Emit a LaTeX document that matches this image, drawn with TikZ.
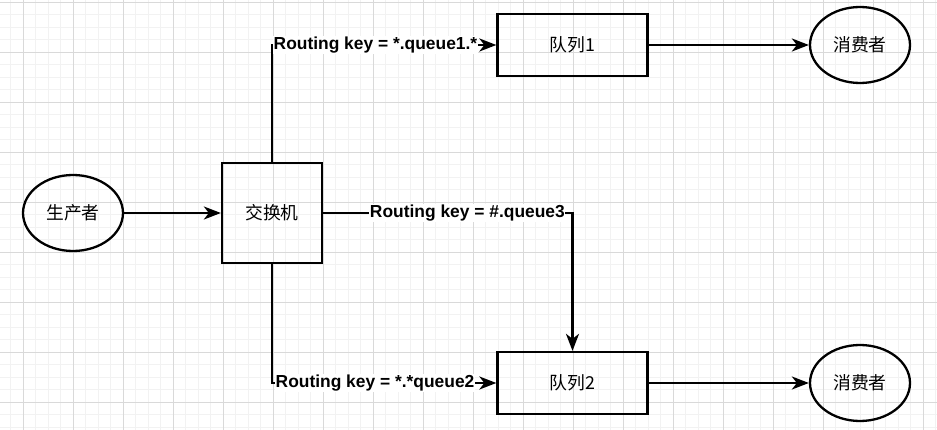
\documentclass[tikz,border=0pt]{standalone}
\usepackage{fontspec}
\setmainfont{Liberation Sans}
\newfontfamily\cjkfont{Noto Sans CJK SC}
\usetikzlibrary{arrows.meta, positioning, shapes.geometric}

\tikzset{
  gridminor/.style={draw=black!5, line width=0.8pt},
  gridmajor/.style={draw=black!15, line width=0.8pt},
  rolenode/.style={ellipse, draw, line width=2.3pt, minimum width=100pt, minimum height=76pt,
    inner sep=0pt, font=\cjkfont\fontsize{17.8}{20}\selectfont},
  boxnode/.style={rectangle, draw, line width=2.3pt, inner sep=0pt,
    font=\cjkfont\fontsize{17.8}{20}\selectfont},
  link/.style={line width=2.3pt, -{Stealth[length=17pt, width=13pt, inset=5pt]}},
  keylabel/.style={fill=white, inner sep=0.5pt, font=\bfseries\fontsize{17.4}{20}\selectfont}
}

\begin{document}
\begin{tikzpicture}[x=1pt, y=-1pt]
        \useasboundingbox (0,0) rectangle (937,430);
        \fill[white] (0,0) rectangle (937,430);

        % grid
        \foreach \gx in {10.5,23,...,937} \draw[gridminor] (\gx,0) -- (\gx,430);
        \foreach \gy in {2,14.5,...,430} \draw[gridminor] (0,\gy) -- (937,\gy);
        \foreach \gx in {23,73,...,923} \draw[gridmajor] (\gx,0) -- (\gx,430);
        \foreach \gy in {2,52,...,402} \draw[gridmajor] (0,\gy) -- (937,\gy);

        % nodes
        \node[rolenode] (producer) at (73,213) {生产者};
        \node[boxnode, minimum width=100pt, minimum height=100pt] (exchange) at (272,213) {交换机};
        \node[boxnode, minimum width=150pt, minimum height=62pt] (queueA) at (572.5,45) {队列1};
        \node[boxnode, minimum width=150pt, minimum height=62pt] (queueB) at (572.5,383) {队列2};
        \node[rolenode] (consumerA) at (860,45) {消费者};
        \node[rolenode] (consumerB) at (860,383) {消费者};

        % connectors
        \draw[link] (producer) -- (exchange);
        \draw[link] (exchange.north) |- (queueA.west);
        \draw[link] (exchange.east) -| (queueB.north);
        \draw[link] (exchange.south) |- (queueB.west);
        \draw[link] (queueA) -- (consumerA);
        \draw[link] (queueB) -- (consumerB);

        % routing keys
        \node[keylabel, anchor=west] (keyA) at ([xshift=1pt]exchange.north |- queueA.west) {Routing key = *.queue1.*};
        \node[keylabel, anchor=east] (keyC) at ([xshift=-7pt]exchange.east -| queueB.north) {Routing key = \#.queue3};
        \node[keylabel, anchor=west] (keyB) at ([xshift=3pt]exchange.south |- queueB.west) {Routing key = *.*queue2};
      \end{tikzpicture}
\end{document}
